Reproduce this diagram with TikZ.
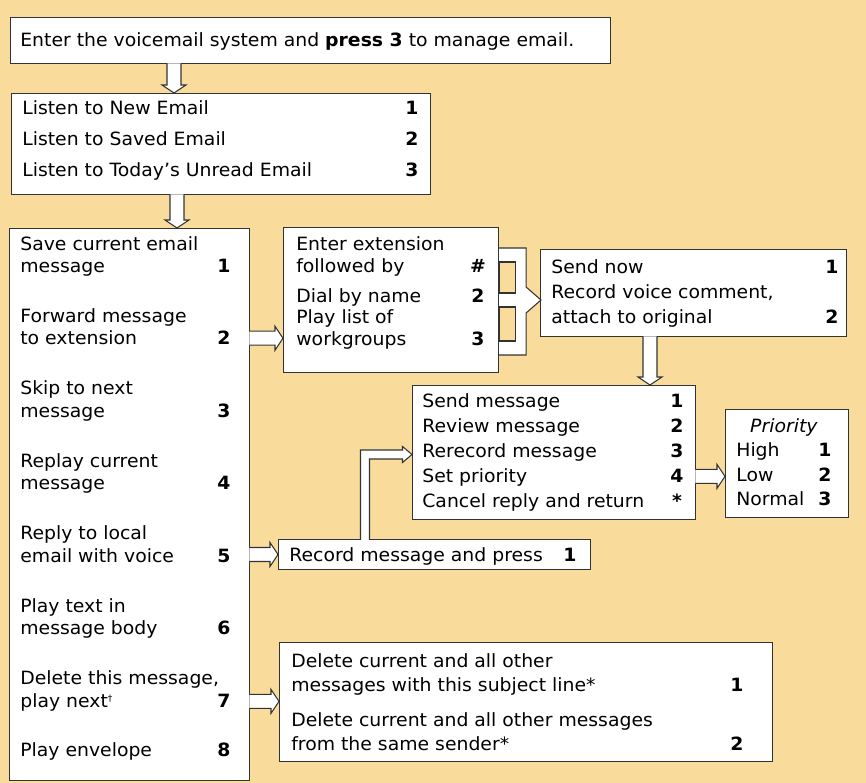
\documentclass[tikz,border=0pt]{standalone}
\usepackage{fontspec}
\setmainfont[FakeStretch=1.03]{DejaVu Sans}
\usepackage{xcolor}
\usetikzlibrary{calc}

\definecolor{bgorange}{RGB}{249,220,155}
\newdimen\px \px=0.02cm
\newcommand{\menufont}{\fontsize{10.4}{12}\selectfont}

% hollow block arrows, start point gives the line, end point gives the tip
\newcommand{\blockright}[2]{%
  \filldraw[blockarrow] let \p1=#1, \p2=#2 in
    (\x1-0.4pt,\y1+7\px) -- (\x2-8\px,\y1+7\px) -- (\x2-8\px,\y1+12\px)
    -- (\x2,\y1) -- (\x2-8\px,\y1-12\px) -- (\x2-8\px,\y1-7\px) -- (\x1-0.4pt,\y1-7\px);}
\newcommand{\blockdown}[2]{%
  \filldraw[blockarrow] let \p1=#1, \p2=#2 in
    (\x1-7\px,\y1+0.4pt) -- (\x1-7\px,\y2+8\px) -- (\x1-12\px,\y2+8\px)
    -- (\x1,\y2) -- (\x1+12\px,\y2+8\px) -- (\x1+7\px,\y2+8\px) -- (\x1+7\px,\y1+0.4pt);}

\begin{document}
\begin{tikzpicture}[x=0.02cm,y=-0.02cm]

\tikzstyle{mbox}=[draw=black!80,fill=white,line width=0.6pt,anchor=north west,inner sep=0pt]
\tikzstyle{mtext}=[anchor=base west,inner sep=0pt,font=\menufont]
\tikzstyle{mkey}=[anchor=base,inner sep=0pt,font=\menufont\bfseries]
\tikzstyle{blockarrow}=[draw=black!80,fill=white,line width=0.6pt,line join=miter]

%% Background
\fill[bgorange] (0,0) rectangle (866,783);

%% Boxes
\node[mbox,minimum width=600\px,minimum height=46\px] (start) at (10,17) {};
\node[mbox,minimum width=419\px,minimum height=101\px] (listen) at (11,93) {};
\node[mbox,minimum width=240\px,minimum height=552\px] (menu) at (9,228) {};
\node[mbox,minimum width=215\px,minimum height=145\px] (ext) at (283,227) {};
\node[mbox,minimum width=306\px,minimum height=87\px] (send) at (540,249) {};
\node[mbox,minimum width=283\px,minimum height=134\px] (reply) at (412,385) {};
\node[mbox,minimum width=123\px,minimum height=108\px] (prio) at (725,409) {};
\node[mbox,minimum width=312\px,minimum height=30\px] (rec) at (278,539) {};
\node[mbox,minimum width=493\px,minimum height=119\px] (del) at (279,642) {};

%% Start
\node[mtext] (st) at (20,47) {Enter the voicemail system and \textbf{press 3} to manage email.};

%% Listen menu
\node[mtext] (ls1) at (22,115) {Listen to New Email};
\node[mtext] (ls2) at (22,146) {Listen to Saved Email};
\node[mtext] (ls3) at (22,177) {Listen to Today’s Unread Email};
\node[mkey] (lk1) at (412,115) {1};
\node[mkey] (lk2) at (412,146) {2};
\node[mkey] (lk3) at (412,177) {3};

%% Main menu
\node[mtext] (m1a) at (20,251) {Save current email};
\node[mtext] (m1b) at (20,273) {message};
\node[mtext] (m2a) at (20,323) {Forward message};
\node[mtext] (m2b) at (20,345) {to extension};
\node[mtext] (m3a) at (20,395) {Skip to next};
\node[mtext] (m3b) at (20,418) {message};
\node[mtext] (m4a) at (20,468) {Replay current};
\node[mtext] (m4b) at (20,490) {message};
\node[mtext] (m5a) at (20,540) {Reply to local};
\node[mtext] (m5b) at (20,563) {email with voice};
\node[mtext] (m6a) at (20,613) {Play text in};
\node[mtext] (m6b) at (20,635) {message body};
\node[mtext] (m7a) at (20,685) {Delete this message,};
\node[mtext] (m7b) at (20,708) {play next\textsuperscript{\tiny †}};
\node[mtext] (m8a) at (20,757) {Play envelope};
\node[mkey] (mk1) at (224,273) {1};
\node[mkey] (mk2) at (224,345) {2};
\node[mkey] (mk3) at (224,418) {3};
\node[mkey] (mk4) at (224,490) {4};
\node[mkey] (mk5) at (224,563) {5};
\node[mkey] (mk6) at (224,635) {6};
\node[mkey] (mk7) at (224,708) {7};
\node[mkey] (mk8) at (224,757) {8};

%% Forward menu
\node[mtext] (e1a) at (296,251) {Enter extension};
\node[mtext] (e1b) at (296,273) {followed by};
\node[mtext] (e2a) at (296,303) {Dial by name};
\node[mtext] (e3a) at (296,324) {Play list of};
\node[mtext] (e3b) at (296,346) {workgroups};
\node[mkey] (ek1) at (478,273) {\#};
\node[mkey] (ek2) at (478,303) {2};
\node[mkey] (ek3) at (478,346) {3};

%% Send menu
\node[mtext] (s1) at (551,274) {Send now};
\node[mtext] (s2a) at (551,299) {Record voice comment,};
\node[mtext] (s2b) at (551,324) {attach to original};
\node[mkey] (sk1) at (832,274) {1};
\node[mkey] (sk2) at (832,324) {2};

%% Reply menu
\node[mtext] (r1) at (422,408) {Send message};
\node[mtext] (r2) at (422,433) {Review message};
\node[mtext] (r3) at (422,458) {Rerecord message};
\node[mtext] (r4) at (422,483) {Set priority};
\node[mtext] (r5) at (422,508) {Cancel reply and return};
\node[mkey] (rk1) at (677,408) {1};
\node[mkey] (rk2) at (677,433) {2};
\node[mkey] (rk3) at (677,458) {3};
\node[mkey] (rk4) at (677,483) {4};
\node[mkey] (rk5) at (677,508) {*};

%% Priority
\node[mtext,anchor=base] (p0) at (784,433) {\textit{Priority}};
\node[mtext] (p1) at (736,457) {High};
\node[mtext] (p2) at (736,482) {Low};
\node[mtext] (p3) at (736,506) {Normal};
\node[mkey] (pk1) at (825,457) {1};
\node[mkey] (pk2) at (825,482) {2};
\node[mkey] (pk3) at (825,506) {3};

%% Record
\node[mtext] (rc) at (289,562) {Record message and press};
\node[mkey] (rck) at (570,562) {1};

%% Delete menu
\node[mtext] (d1a) at (291,668) {Delete current and all other};
\node[mtext] (d1b) at (291,692) {messages with this subject line*};
\node[mtext] (d2a) at (291,726) {Delete current and all other messages};
\node[mtext] (d2b) at (291,750) {from the same sender*};
\node[mkey] (dk1) at (737,692) {1};
\node[mkey] (dk2) at (737,750) {2};

%% Arrows
\blockdown{($(start.south west)+(164,0)$)}{(listen.north)}
\blockdown{($(listen.south west)+(166,0)$)}{(menu.north)}
\blockright{(menu.east |- mk2)}{(ext.west)}
\blockright{(menu.east |- rec)}{(rec.west)}
\blockright{(menu.east |- mk7)}{(del.west)}
\blockdown{($(send.south west)+(110,0)$)}{(reply.north)}
\blockright{(reply.east |- rk4)}{(prio.west)}

% bracket from the forward options to the send box
\coordinate (brk) at ($(ext.north east)+(0,21)$);
\filldraw[blockarrow] (brk) -- ++(27,0) -- ++(0,39) -- ($(send.west |- brk)+(1,52)$)
  -- ($(brk)+(27,65)$) -- ++(0,42) -- ++(-27,0);
\filldraw[draw=black!80,fill=bgorange,line width=0.6pt]
  ($(brk)+(0,14)$) rectangle ++(16,31)
  ($(brk)+(0,59)$) rectangle ++(16,34);

% elbow from record to reply box
\coordinate (elb) at ($(rec.north west)+(87,0)$);
\filldraw[blockarrow] ($(elb)+(-4.5,1)$) -- ++(0,-90) -- ++(42,0) -- ++(0,-3.5)
  -- ++(9.5,8) -- ++(-9.5,8) -- ++(0,-3.5) -- ++(-33,0) -- ++(0,81);

\end{tikzpicture}
\end{document}
